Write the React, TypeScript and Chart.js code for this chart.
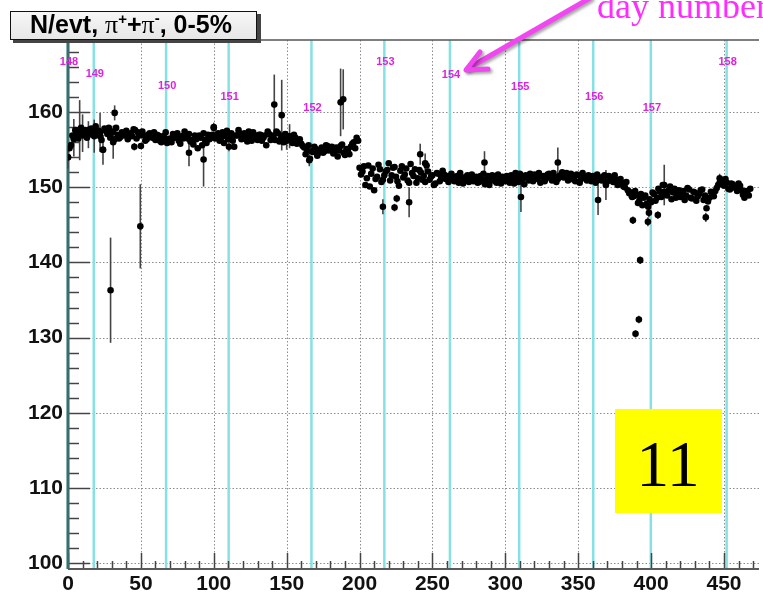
import React, { useEffect, useRef } from "react";
import { Chart, registerables } from "chart.js";

Chart.register(...registerables);

// ---------- axis ranges & ticks ----------
const X_MIN = 0;
const X_MAX = 474;
const Y_MIN = 99.2;
const Y_MAX = 169.6;
const xTickValues = [0, 50, 100, 150, 200, 250, 300, 350, 400, 450];
const yTickValues = [100, 110, 120, 130, 140, 150, 160];

// ---------- day boundaries ----------
const dayNumbers = ["148", "149", "150", "151", "152", "153", "154", "155", "156", "157", "158"];
const dayStarts = [0, 17.7, 67.3, 110.2, 167, 217, 262, 309.5, 360.3, 399.8, 451.8];
const dayLabelLevels = [166.7, 165.1, 163.5, 162.0, 160.5, 166.7, 165.0, 163.4, 162.0, 160.5, 166.7];

// ---------- main band of measurements: even runs 0..468 ----------
const bandValuesEven = [
  154.0, 155.6, 156.4, 157.1, 157.4, 156.9, 157.6, 157.3, 157.8, 157.5,
  157.2, 156.8, 155.0, 157.5, 157.9, 157.3, 156.4, 157.0, 156.7, 157.2,
  157.5, 157.1, 156.8, 157.6, 157.3, 155.5, 156.9, 156.4, 157.2, 156.6,
  156.3, 156.9, 156.0, 156.6, 155.9, 156.5, 157.1, 156.7, 156.2, 156.8,
  157.4, 156.5, 156.1, 155.7, 156.4, 156.9, 155.6, 156.3, 157.0, 156.6,
  157.9, 156.7, 156.2, 157.3, 156.8, 156.4, 157.2, 155.4, 156.9, 157.1,
  156.5, 156.8, 157.4, 156.2, 156.9, 156.3, 157.0, 156.6, 155.6, 157.1,
  156.7, 156.3, 157.2, 156.5, 156.0, 156.8, 156.4, 155.9, 156.6, 156.2,
  155.8, 155.3, 154.9, 153.8, 154.7, 155.1, 154.6, 155.3, 154.8, 155.5,
  155.0, 154.5, 155.3, 154.9, 155.7, 154.3, 154.8, 155.4, 156.0, 156.6,
  152.6, 152.1, 150.3, 152.9, 151.8, 149.6, 151.4, 152.4, 151.0, 152.1,
  153.2, 151.6, 152.7, 150.8, 152.2, 151.3, 152.5, 150.6, 151.9, 152.4,
  151.2, 152.0, 151.5, 152.9, 151.0, 151.6, 150.5, 151.8, 151.3, 151.7,
  151.5, 151.0, 151.4, 151.2, 150.6, 151.3, 150.9, 151.6, 151.1, 150.8,
  151.4, 150.7, 151.1, 150.4, 151.5, 150.9, 151.3, 150.6, 151.0, 151.4,
  150.8, 151.2, 151.6, 150.5, 151.3, 151.8, 151.2, 151.6, 150.9, 151.4,
  151.7, 151.1, 150.6, 151.5, 151.2, 151.8, 150.9, 151.4, 151.1, 151.6,
  151.3, 151.9, 151.2, 151.5, 150.8, 151.6, 151.1, 151.4, 150.9, 151.3,
  151.5, 150.6, 151.3, 150.9, 151.6, 150.8, 151.2, 150.7, 151.0, 150.4,
  150.6, 150.0, 149.6, 149.2, 148.8, 149.0, 148.3, 147.6, 148.9, 147.4,
  148.0, 149.1, 148.6, 149.4, 150.3, 149.1, 149.6, 148.4, 149.8, 149.2,
  148.7, 149.5, 148.9, 149.7, 148.5, 149.3, 148.8, 149.6, 148.3, 147.2,
  148.6, 149.1, 149.5, 150.3, 151.0, 150.2, 150.6, 149.7, 150.4, 149.9,
  150.5, 149.6, 148.6, 149.2, 149.8,
];
// ---------- main band of measurements: odd runs 1..467 ----------
const bandValuesOdd = [
  155.2, 156.9, 157.6, 156.5, 157.9, 157.2, 156.6, 157.7, 157.0, 158.1,
  157.5, 156.3, 157.8, 157.1, 156.6, 157.4, 157.9, 156.5, 157.3, 156.9,
  156.4, 157.2, 157.7, 156.5, 156.9, 157.4, 156.2, 157.0, 156.7, 157.3,
  157.0, 156.2, 156.8, 157.3, 156.4, 156.0, 156.6, 157.2, 155.8, 156.5,
  156.8, 157.1, 156.3, 156.9, 155.2, 156.6, 157.2, 155.9, 156.4, 157.0,
  156.5, 157.2, 156.6, 155.9, 157.5, 156.8, 156.2, 156.9, 157.6, 156.4,
  157.2, 156.1, 156.7, 157.3, 156.5, 157.0, 156.2, 156.9, 157.4, 156.3,
  156.9, 157.4, 156.1, 156.8, 157.1, 156.3, 156.7, 157.0, 155.8, 156.4,
  155.5, 154.4, 155.6, 154.8, 155.4, 154.2, 155.0, 154.6, 155.6, 154.9,
  155.4, 154.7, 154.1, 155.5, 154.6, 155.1, 154.4, 155.8, 155.2, 156.2,
  151.7, 152.8, 151.2, 150.1, 152.5, 151.1, 153.0, 150.7, 151.6, 152.3,
  150.9, 152.6, 151.4, 150.2, 152.8, 151.7, 150.9, 153.1, 151.5, 150.6,
  152.3, 151.0, 150.7, 152.1, 151.4, 150.3, 151.9, 150.8, 152.2, 151.1,
  150.7, 151.8, 150.8, 151.5, 151.9, 150.5, 151.4, 150.7, 151.7, 151.3,
  150.6, 151.5, 151.8, 150.9, 150.3, 151.6, 150.8, 151.7, 150.5, 151.2,
  151.5, 150.6, 151.0, 151.9, 150.7, 151.1, 150.4, 151.3, 151.8, 150.8,
  151.2, 151.9, 151.4, 150.8, 151.7, 151.3, 151.9, 150.7, 151.5, 152.0,
  151.6, 150.9, 151.8, 151.0, 151.7, 150.6, 151.9, 151.2, 151.6, 150.8,
  150.9, 151.7, 151.0, 151.4, 150.5, 151.5, 150.9, 151.6, 150.3, 151.1,
  150.1, 150.7, 149.4, 148.7, 149.5, 147.9, 149.1, 148.6, 147.8, 148.4,
  149.3, 148.2, 149.8, 148.7, 149.4, 148.9, 150.1, 149.3, 148.6, 149.6,
  149.2, 148.3, 149.9, 148.6, 149.4, 148.2, 149.1, 149.7, 148.9, 148.1,
  149.4, 148.8, 149.9, 150.6, 150.4, 151.1, 149.8, 150.5, 150.0, 149.5,
  150.2, 149.0, 149.5, 148.9,
];
const evenRuns = bandValuesEven.map((_, i) => i * 2);
const oddRuns = bandValuesOdd.map((_, i) => i * 2 + 1);

// ---------- measurements with visible error bars / outliers ----------
const errRuns = [
  0, 4, 8, 10, 14, 18, 22, 24, 29.2, 31, 32, 45.5, 49.6, 83, 93, 100, 110.4,
  141.5, 146.6, 150, 152, 165.5, 187, 188.8, 216, 224, 225.5, 234, 241.6, 245,
  285.7, 310.7, 336, 363.6, 369, 385, 387.5, 389.3, 391.6, 392.5, 397.8, 398.5,
  404.6, 409, 437.5, 447,
];
const errValues = [
  154.0, 156.6, 157.6, 157.2, 157.0, 156.8, 157.3, 155.0, 136.3, 156.0, 159.9, 155.4, 144.8, 154.6, 153.7, 158.0, 155.4,
  161.0, 159.6, 156.2, 156.8, 153.6, 161.3, 161.7, 147.4, 147.3, 148.5, 148.0, 154.4, 153.2,
  153.3, 148.7, 153.3, 148.3, 150.3, 149.2, 145.6, 130.5, 132.4, 140.3, 145.4, 146.6,
  146.3, 150.3, 146.0, 151.2,
];
const errSizes = [
  1.5, 2.5, 4.0, 2.5, 1.8, 2.2, 2.6, 2.0, 7.0, 2.2, 1.0, 0.5, 5.6, 1.8, 3.6, 0.6, 0.6,
  4.0, 4.7, 1.2, 1.6, 0.8, 4.5, 4.0, 1.0, 0.5, 0.5, 2.0, 1.4, 1.3,
  1.5, 2.0, 2.0, 2.0, 2.0, 0.6, 0.5, 0.5, 0.5, 0.5, 0.6, 0.6,
  0.5, 2.7, 0.6, 0.6,
];

const SANS = '"Liberation Sans", Arial, Helvetica, sans-serif';
const SERIF = '"Liberation Serif", "Times New Roman", serif';

const rootPlugin = {
  id: "rootStyle",
  beforeDraw(chart: any) {
    const { ctx, width, height } = chart;
    ctx.save();
    ctx.fillStyle = "#ffffff";
    ctx.fillRect(0, 0, width, height);
    ctx.restore();
  },
  beforeDatasetsDraw(chart: any) {
    const { ctx, chartArea: ca, scales } = chart;
    const xs = scales.x;
    const ys = scales.y;
    ctx.save();
    // dotted grid
    ctx.strokeStyle = "#8c8c8c";
    ctx.lineWidth = 1;
    ctx.setLineDash([1.5, 2]);
    xTickValues.forEach((v) => {
      if (v === X_MIN) return;
      const px = Math.round(xs.getPixelForValue(v)) + 0.5;
      ctx.beginPath();
      ctx.moveTo(px, ca.top);
      ctx.lineTo(px, ca.bottom);
      ctx.stroke();
    });
    yTickValues.forEach((v) => {
      const py = Math.round(ys.getPixelForValue(v)) + 0.5;
      ctx.beginPath();
      ctx.moveTo(ca.left, py);
      ctx.lineTo(ca.right, py);
      ctx.stroke();
    });
    ctx.setLineDash([]);
    // cyan day lines
    ctx.strokeStyle = "#86e1e4";
    ctx.lineWidth = 2.5;
    dayStarts.forEach((v) => {
      const px = xs.getPixelForValue(v);
      ctx.beginPath();
      ctx.moveTo(px, ca.top);
      ctx.lineTo(px, ca.bottom);
      ctx.stroke();
    });
    // top frame
    ctx.strokeStyle = "#555";
    ctx.lineWidth = 1.5;
    ctx.beginPath();
    ctx.moveTo(ca.left, ca.top);
    ctx.lineTo(ca.right, ca.top);
    ctx.stroke();
    // y-axis ticks (major every 10, minor every 2)
    ctx.strokeStyle = "#444";
    ctx.lineWidth = 1.5;
    for (let v = 100; v <= 168; v += 2) {
      const py = Math.round(ys.getPixelForValue(v)) + 0.5;
      const len = v % 10 === 0 ? 22 : 11;
      ctx.beginPath();
      ctx.moveTo(ca.left, py);
      ctx.lineTo(ca.left + len, py);
      ctx.stroke();
    }
    // x-axis ticks (major every 50, minor every 10)
    for (let v = 0; v <= 470; v += 10) {
      const px = Math.round(xs.getPixelForValue(v)) + 0.5;
      const len = v % 50 === 0 ? 16 : 8;
      ctx.beginPath();
      ctx.moveTo(px, ca.bottom);
      ctx.lineTo(px, ca.bottom - len);
      ctx.stroke();
    }
    // axes
    ctx.strokeStyle = "#5a5a5a";
    ctx.lineWidth = 2;
    ctx.beginPath();
    ctx.moveTo(ca.left, ca.bottom);
    ctx.lineTo(ca.right, ca.bottom);
    ctx.stroke();
    ctx.strokeStyle = "#3b6d6d";
    ctx.lineWidth = 3;
    ctx.beginPath();
    ctx.moveTo(ca.left, ca.top);
    ctx.lineTo(ca.left, ca.bottom);
    ctx.stroke();
    // error bars
    ctx.strokeStyle = "#444";
    ctx.lineWidth = 1.6;
    errRuns.forEach((r, i) => {
      const px = xs.getPixelForValue(r);
      ctx.beginPath();
      ctx.moveTo(px, ys.getPixelForValue(errValues[i] + errSizes[i]));
      ctx.lineTo(px, ys.getPixelForValue(errValues[i] - errSizes[i]));
      ctx.stroke();
    });
    ctx.restore();
  },
  afterDraw(chart: any) {
    const { ctx, scales } = chart;
    const xs = scales.x;
    const ys = scales.y;
    ctx.save();
    // day labels
    ctx.fillStyle = "#dd22dd";
    ctx.font = `bold 11px ${SANS}`;
    ctx.textAlign = "center";
    ctx.textBaseline = "middle";
    dayNumbers.forEach((d, i) => {
      ctx.fillText(d, xs.getPixelForValue(dayStarts[i]) + 1, ys.getPixelForValue(dayLabelLevels[i]));
    });

    // title box with shadow
    ctx.fillStyle = "#444";
    ctx.fillRect(13, 14, 248, 29);
    const g = ctx.createLinearGradient(0, 11, 0, 40);
    g.addColorStop(0, "#f7f7f7");
    g.addColorStop(1, "#e6e6e6");
    ctx.fillStyle = g;
    ctx.fillRect(10, 11, 247, 29);
    ctx.strokeStyle = "#111";
    ctx.lineWidth = 1;
    ctx.strokeRect(10.5, 11.5, 246, 28);

    const parts = [
      { t: "N/evt, ", f: `bold 25px ${SANS}`, dy: 0 },
      { t: "\u03c0", f: `26px ${SERIF}`, dy: 0 },
      { t: "+", f: `bold 15px ${SANS}`, dy: -9 },
      { t: "+", f: `bold 25px ${SANS}`, dy: 0 },
      { t: "\u03c0", f: `26px ${SERIF}`, dy: 0 },
      { t: "-", f: `bold 15px ${SANS}`, dy: -10 },
      { t: ", 0-5%", f: `bold 25px ${SANS}`, dy: 0 },
    ];
    let tx = 30;
    const base = 33;
    ctx.fillStyle = "#000";
    ctx.textAlign = "left";
    ctx.textBaseline = "alphabetic";
    parts.forEach((p) => {
      ctx.font = p.f;
      ctx.fillText(p.t, tx, base + p.dy);
      tx += ctx.measureText(p.t).width;
    });

    // yellow box "11"
    ctx.fillStyle = "#ffff00";
    ctx.fillRect(615, 409, 107, 104);
    ctx.fillStyle = "#000";
    ctx.font = `66px ${SERIF}`;
    ctx.textAlign = "center";
    ctx.fillText("11", 668, 486);

    // "day number" annotation
    ctx.fillStyle = "#ff2cff";
    ctx.font = `36px ${SERIF}`;
    ctx.textAlign = "left";
    ctx.fillText("day number", 597, 18);

    // arrow
    ctx.shadowColor = "rgba(0,0,0,0.35)";
    ctx.shadowBlur = 3;
    ctx.shadowOffsetX = 2;
    ctx.shadowOffsetY = 2;
    ctx.strokeStyle = "#f047f0";
    ctx.lineWidth = 5;
    ctx.lineCap = "round";
    ctx.lineJoin = "round";
    ctx.beginPath();
    ctx.moveTo(590, -2);
    ctx.lineTo(467, 69);
    ctx.stroke();
    ctx.beginPath();
    ctx.moveTo(480, 52);
    ctx.lineTo(466, 70);
    ctx.lineTo(488, 69);
    ctx.stroke();
    ctx.restore();
  },
};

export default function App() {
  const ref = useRef<HTMLCanvasElement>(null);
  useEffect(() => {
    document.body.style.margin = "0";
    const canvas = ref.current;
    if (!canvas) return;
    const pointStyle = {
      backgroundColor: "#000",
      borderWidth: 0,
      pointRadius: 3.3,
    };
    const chart = new Chart(canvas, {
      type: "scatter",
      data: {
        datasets: [
          { label: "even runs", data: evenRuns.map((x, i) => ({ x, y: bandValuesEven[i] })), ...pointStyle },
          { label: "odd runs", data: oddRuns.map((x, i) => ({ x, y: bandValuesOdd[i] })), ...pointStyle },
          { label: "errors", data: errRuns.map((x, i) => ({ x, y: errValues[i] })), ...pointStyle },
        ],
      },
      options: {
        animation: false,
        responsive: false,
        devicePixelRatio: 1,
        layout: { padding: { top: 40, left: 0, right: 0, bottom: 0 } },
        plugins: { legend: { display: false }, tooltip: { enabled: false } },
        scales: {
          x: {
            type: "linear",
            position: "bottom",
            min: X_MIN,
            max: X_MAX,
            grid: { display: false, drawTicks: false },
            border: { display: false },
            afterBuildTicks: (s: any) => {
              s.ticks = xTickValues.map((v) => ({ value: v }));
            },
            afterFit: (s: any) => {
              s.height = 24;
            },
            ticks: {
              padding: 3,
              color: "#111",
              font: { family: SANS, size: 21, weight: "bold" },
              maxRotation: 0,
              autoSkip: false,
              callback: (v: any) => String(v),
            },
          },
          y: {
            type: "linear",
            min: Y_MIN,
            max: Y_MAX,
            grid: { display: false, drawTicks: false },
            border: { display: false },
            afterBuildTicks: (s: any) => {
              s.ticks = yTickValues.map((v) => ({ value: v }));
            },
            afterFit: (s: any) => {
              s.width = 68;
            },
            ticks: {
              padding: 5,
              color: "#111",
              font: { family: SANS, size: 21, weight: "bold" },
              autoSkip: false,
              callback: (v: any) => String(v),
            },
          },
        },
      },
      plugins: [rootPlugin],
    } as any);
    return () => chart.destroy();
  }, []);
  return (
    <div style={{ width: 763, height: 593, background: "#fff" }}>
      <canvas ref={ref} width={763} height={593} style={{ display: "block", width: 763, height: 593 }} />
    </div>
  );
}
